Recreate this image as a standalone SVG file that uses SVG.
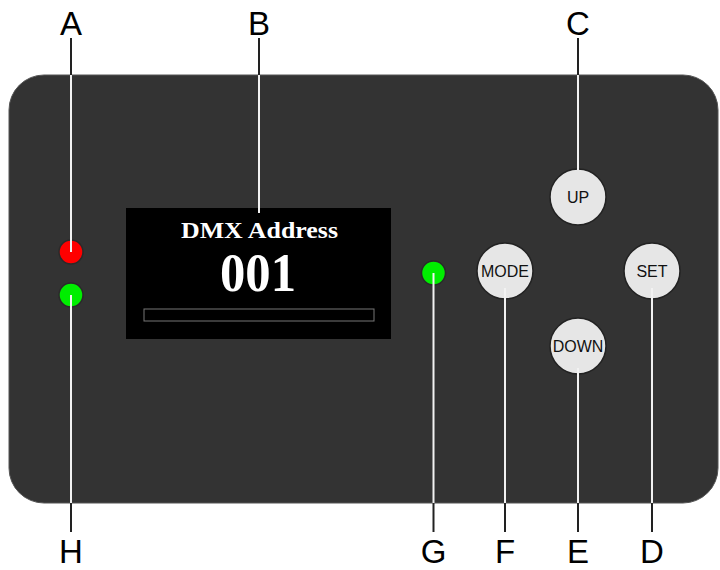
<svg xmlns="http://www.w3.org/2000/svg" width="720" height="570" viewBox="0 0 720 570">
<style>
.lbl{font-family:"Liberation Sans",Arial,sans-serif;font-size:33px;fill:#000;text-anchor:middle}
.btn{fill:#e6e6e6;stroke:#222;stroke-width:1.5}
.btxt{font-family:"Liberation Sans",Arial,sans-serif;font-size:16px;fill:#111;text-anchor:middle}
.out{stroke:#222;stroke-width:2}
.in{stroke:#f2f2f2;stroke-width:2}
</style>
<rect width="720" height="570" fill="#fff"/>
<g id="panel">
<rect x="9" y="75" width="709" height="428" rx="35" ry="35" fill="#333" stroke="#555" stroke-width="1"/>
</g>
<g id="screen">
<rect x="126" y="208" width="265" height="131" fill="#000"/>
<text x="259.5" y="238" font-family="Liberation Serif,serif" font-weight="bold" font-size="24" fill="#fff" text-anchor="middle" textLength="157" lengthAdjust="spacingAndGlyphs">DMX Address</text>
<text x="258" y="291" font-family="Liberation Serif,serif" font-weight="bold" font-size="54" fill="#fff" text-anchor="middle" textLength="76" lengthAdjust="spacingAndGlyphs">001</text>
<rect x="144" y="309" width="230" height="12" fill="none" stroke="#777" stroke-width="1"/>
</g>
<g id="leds">
<circle id="led-red" cx="71" cy="252" r="12" fill="#ff0000" stroke="#2a2a2a" stroke-width="1.5"/>
<circle id="led-green-h" cx="71" cy="295" r="12" fill="#00ee00" stroke="#2a2a2a" stroke-width="1.5"/>
<circle id="led-green-g" cx="433.5" cy="273" r="12" fill="#00ee00" stroke="#2a2a2a" stroke-width="1.5"/>
</g>
<g id="buttons">
<g id="btn-up"><circle class="btn" cx="578" cy="197" r="28"/><text class="btxt" x="578" y="203">UP</text></g>
<g id="btn-mode"><circle class="btn" cx="505" cy="271" r="28"/><text class="btxt" x="505" y="277">MODE</text></g>
<g id="btn-set"><circle class="btn" cx="652" cy="271" r="28"/><text class="btxt" x="652" y="277">SET</text></g>
<g id="btn-down"><circle class="btn" cx="578" cy="346" r="28"/><text class="btxt" x="578" y="352">DOWN</text></g>
</g>
<g id="connectors">
<line class="out" x1="71" y1="38" x2="71" y2="75"/><line class="in" x1="71" y1="75" x2="71" y2="252"/>
<line class="out" x1="259" y1="38" x2="259" y2="75"/><line class="in" x1="259" y1="75" x2="259" y2="213"/>
<line class="out" x1="578" y1="38" x2="578" y2="75"/><line class="in" x1="578" y1="75" x2="578" y2="170"/>
<line class="in" x1="71" y1="295" x2="71" y2="503"/><line class="out" x1="71" y1="503" x2="71" y2="532"/>
<line class="in" x1="433.5" y1="273" x2="433.5" y2="503"/><line class="out" x1="433.5" y1="503" x2="433.5" y2="532"/>
<line class="in" x1="505" y1="288" x2="505" y2="503"/><line class="out" x1="505" y1="503" x2="505" y2="532"/>
<line class="in" x1="578" y1="368" x2="578" y2="503"/><line class="out" x1="578" y1="503" x2="578" y2="532"/>
<line class="in" x1="652" y1="288" x2="652" y2="503"/><line class="out" x1="652" y1="503" x2="652" y2="532"/>
</g>
<g id="labels">
<text class="lbl" x="71" y="35">A</text>
<text class="lbl" x="259" y="35">B</text>
<text class="lbl" x="578" y="35">C</text>
<text class="lbl" x="652" y="563">D</text>
<text class="lbl" x="578" y="563">E</text>
<text class="lbl" x="505" y="563">F</text>
<text class="lbl" x="433.5" y="563">G</text>
<text class="lbl" x="71" y="563">H</text>
</g>
</svg>
